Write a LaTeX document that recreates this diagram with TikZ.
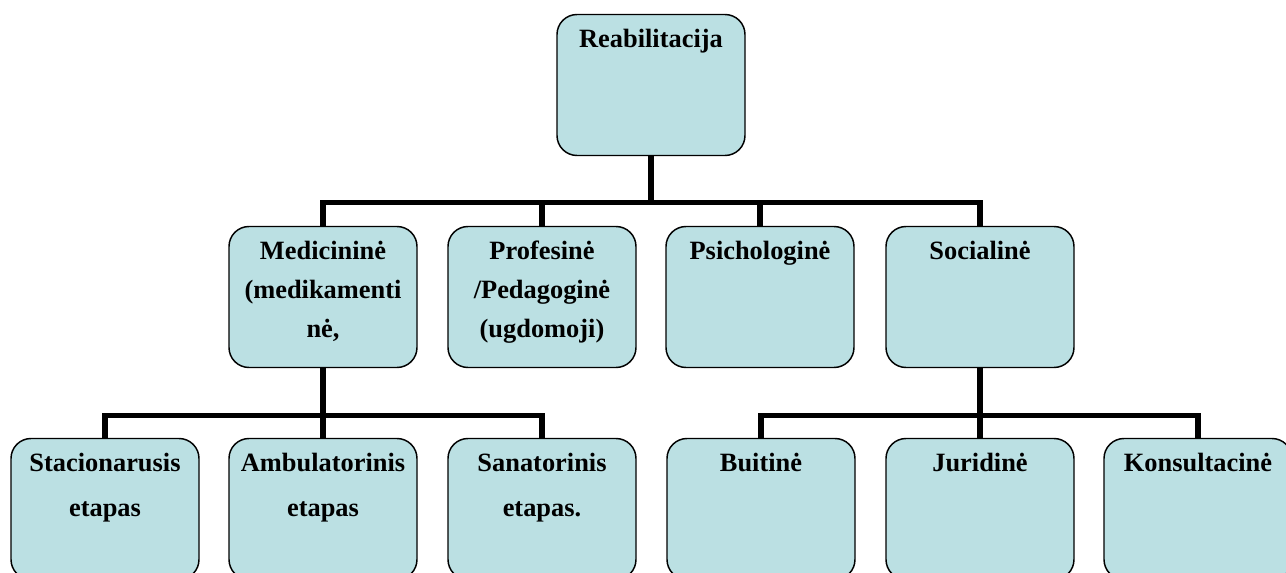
\documentclass[tikz,border=0pt]{standalone}
\usepackage{fontspec}
\setmainfont{Liberation Serif}
\usetikzlibrary{calc}
\definecolor{boxfill}{RGB}{187,224,227}
% text block of a box: lines start near the top, first baseline fixed
\newcommand\celltext[2]{\parbox[c][105.75pt][t]{141pt}{\centering\baselineskip=#1\relax\rule{0pt}{24.75pt}#2}}
\tikzset{
  box/.style={draw=black, line width=1.1pt, fill=boxfill, rounded corners=15pt,
    inner sep=0pt, outer sep=0pt, font=\fontsize{19.8pt}{23pt}\selectfont\bfseries},
  conn/.style={draw=black, line width=4.1pt}
}
\begin{document}
\begin{tikzpicture}[x=0.75pt, y=-0.75pt]
\clip (0,0) rectangle (1286,573);
% root
\node[box] (rea) at (651,85) {\celltext{29.25pt}{Reabilitacija}};
% second level
\node[box] (med)  at (323,297) {\celltext{29.25pt}{Medicininė\\(medikamenti\\nė,}};
\node[box] (prof) at (542,297) {\celltext{29.25pt}{Profesinė\\/Pedagoginė\\(ugdomoji)}};
\node[box] (psy)  at (760,297) {\celltext{29.25pt}{Psichologinė}};
\node[box] (soc)  at (980,297) {\celltext{29.25pt}{Socialinė}};
% third level
\node[box] (sta) at (105,509)  {\celltext{33.75pt}{Stacionarusis\\etapas}};
\node[box] (amb) at (323,509)  {\celltext{33.75pt}{Ambulatorinis\\etapas}};
\node[box] (san) at (542,509)  {\celltext{33.75pt}{Sanatorinis\\etapas.}};
\node[box] (bui) at (761,509)  {\celltext{33.75pt}{Buitinė}};
\node[box] (jur) at (980,509)  {\celltext{33.75pt}{Juridinė}};
\node[box] (kon) at (1198,509) {\celltext{33.75pt}{Konsultacinė}};
% junction points of the bars
\coordinate (busA) at ($(rea.south)+(0,47)$);
\coordinate (busB) at ($(med.south)+(0,48)$);
\coordinate (busC) at ($(soc.south)+(0,48)$);
% connectors
\draw[conn] (rea.south) -- (busA);
\draw[conn] (med.north) |- (busA) -| (soc.north);
\draw[conn] (prof.north) -- (prof.north |- busA);
\draw[conn] (psy.north) -- (psy.north |- busA);
\draw[conn] (med.south) -- (busB);
\draw[conn] (sta.north) |- (busB) -| (san.north);
\draw[conn] (amb.north) -- (amb.north |- busB);
\draw[conn] (soc.south) -- (busC);
\draw[conn] (bui.north) |- (busC) -| (kon.north);
\draw[conn] (jur.north) -- (jur.north |- busC);
\end{tikzpicture}
\end{document}
